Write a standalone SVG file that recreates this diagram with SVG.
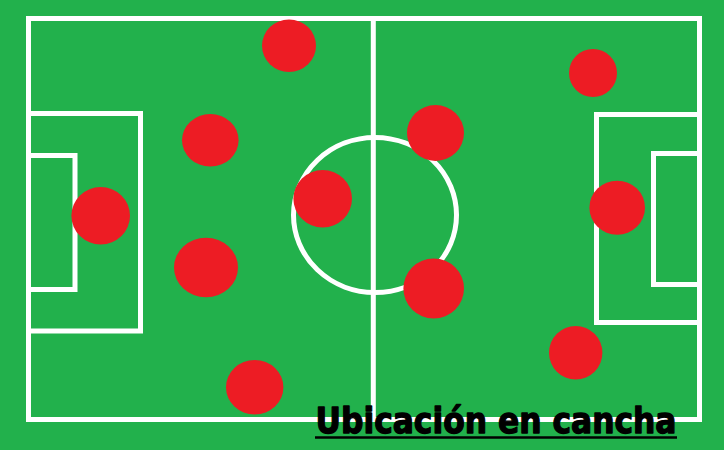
<svg xmlns="http://www.w3.org/2000/svg" width="724" height="450" viewBox="0 0 724 450">
<style>
.ln{fill:none;stroke:#ffffff;stroke-width:5}
.pl{fill:#ed1c24}
.title{font-family:"DejaVu Sans","Liberation Sans",sans-serif;font-weight:bold;font-size:35px;fill:#000000;stroke:#000000;stroke-width:1.3;stroke-linejoin:round}
</style>
<rect x="0" y="0" width="724" height="450" fill="#22b14c"/>
<g id="field">
<rect class="ln" x="28.5" y="18.5" width="671" height="401"/>
<line class="ln" x1="373.3" y1="18.5" x2="373.3" y2="419.5"/>
<ellipse class="ln" cx="375" cy="215" rx="81.5" ry="77.5"/>
<polyline class="ln" points="28.5,113.5 140.5,113.5 140.5,331 28.5,331"/>
<polyline class="ln" points="28.5,155.5 75,155.5 75,289.5 28.5,289.5"/>
<polyline class="ln" points="699.5,114.5 596.5,114.5 596.5,322.5 699.5,322.5"/>
<polyline class="ln" points="699.5,153.5 653.5,153.5 653.5,284.5 699.5,284.5"/>
</g>
<g id="players">
<ellipse class="pl" cx="289" cy="45.7" rx="27" ry="26.3"/>
<ellipse class="pl" cx="210.3" cy="140.3" rx="28.3" ry="26.3"/>
<ellipse class="pl" cx="100.7" cy="215.7" rx="29.3" ry="28.7"/>
<ellipse class="pl" cx="206" cy="267.5" rx="32" ry="29.8"/>
<ellipse class="pl" cx="254.7" cy="387.3" rx="28.7" ry="27.3"/>
<ellipse class="pl" cx="322.7" cy="198.7" rx="29.3" ry="28.7"/>
<ellipse class="pl" cx="435.5" cy="133" rx="28.5" ry="28"/>
<ellipse class="pl" cx="433.7" cy="288.5" rx="30.3" ry="30"/>
<ellipse class="pl" cx="593" cy="73" rx="24" ry="24"/>
<ellipse class="pl" cx="617.2" cy="207.7" rx="27.8" ry="27"/>
<ellipse class="pl" cx="575.7" cy="352.8" rx="26.7" ry="26.8"/>
</g>
<g id="title">
<text class="title" x="315.5" y="432.5" textLength="361" lengthAdjust="spacingAndGlyphs">Ubicación en cancha</text>
<line x1="315" y1="437.5" x2="677" y2="437.5" stroke="#000000" stroke-width="2.5"/>
</g>
</svg>
